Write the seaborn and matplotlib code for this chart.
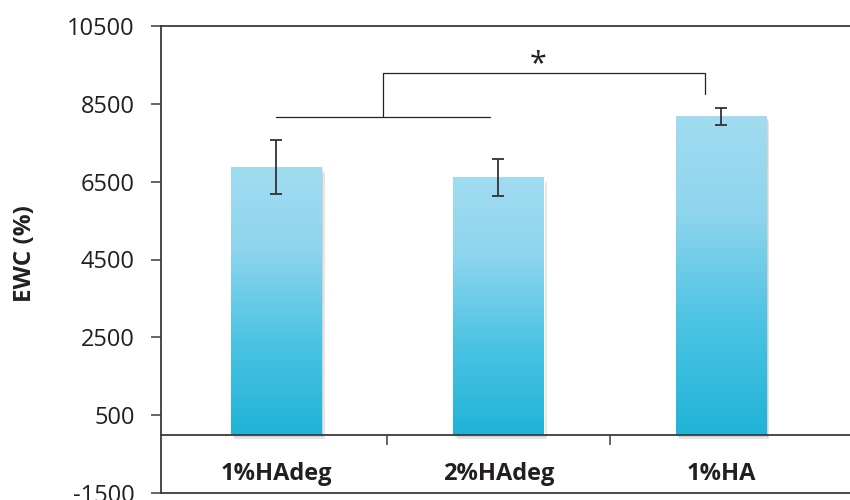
import numpy as np
import pandas as pd
import matplotlib
matplotlib.use("Agg")
import matplotlib.pyplot as plt
import matplotlib.patheffects as pe
from matplotlib.colors import LinearSegmentedColormap
import seaborn as sns

# Equilibrium water content per hydrogel formulation
groups = ["1%HAdeg", "2%HAdeg", "1%HA"]
ewc_mean = [6880, 6610, 8180]
ewc_sd = [700, 470, 220]
y_ticks = [-1500, 500, 2500, 4500, 6500, 8500, 10500]

# Significance bracket: pooled HAdeg groups vs 1%HA
pool_x = [0.0, 0.96]
pool_y = 8170
bracket_x = [0.48, 1.93]
bracket_top = 9300
bracket_drop = 8740
star_pos = (1.18, 9520)
star_label = "*"

sns.set_theme(style="white")
plt.rcParams["font.family"] = ["Open Sans", "DejaVu Sans"]

spine_col = "#3a3a3a"
text_col = "#231f20"

fig = plt.figure(figsize=(8.5, 5), dpi=100)
ax = fig.add_axes([0.1894, 0.014, 0.8106, 0.934])

df = pd.DataFrame({"group": groups, "ewc": ewc_mean})
sns.barplot(data=df, x="group", y="ewc", ax=ax, width=0.405,
            color="#20b4d8", errorbar=None, saturation=1, zorder=2)

# vertical gradient fill inside each bar, with a soft drop shadow
grad = LinearSegmentedColormap.from_list(
    "bar_grad",
    [(0.0, "#1fb3d8"), (0.35, "#4cc3e3"), (0.7, "#8fd5ee"), (1.0, "#a1dcf0")])
gvals = np.linspace(0, 1, 256).reshape(-1, 1)
for bar in ax.patches:
    x0, y0 = bar.get_x(), bar.get_y()
    w, h = bar.get_width(), bar.get_height()
    bar.set_path_effects([
        pe.SimplePatchShadow(offset=(2.5, -3.5), shadow_rgbFace="#8a8a8a", alpha=0.22),
        pe.SimplePatchShadow(offset=(1.2, -1.8), shadow_rgbFace="#6a6a6a", alpha=0.25),
        pe.Normal()])
    im = ax.imshow(gvals, cmap=grad, origin="lower", aspect="auto",
                   extent=(x0, x0 + w, y0, y0 + h), zorder=2.5)
    im.set_clip_path(bar)

ax.errorbar(range(len(groups)), ewc_mean, yerr=ewc_sd, fmt="none",
            ecolor="#333333", elinewidth=1.3, capsize=4.5, capthick=1.3, zorder=4)

# bracket lines and asterisk
ax.plot(pool_x, [pool_y, pool_y], color="#222222", lw=0.9, zorder=4)
ax.plot([bracket_x[0], bracket_x[0], bracket_x[1], bracket_x[1]],
        [pool_y, bracket_top, bracket_top, bracket_drop],
        color="#222222", lw=0.9, zorder=4, solid_joinstyle="miter")
ax.text(star_pos[0], star_pos[1], star_label, fontsize=22, ha="center",
        va="center", color=text_col)

ax.set_xlim(-0.517, 2.58)
ax.set_ylim(y_ticks[0], y_ticks[-1])
ax.set_yticks(y_ticks)
ax.set_yticklabels([str(t) for t in y_ticks], fontsize=17, color=text_col)

# category axis line at zero, boundary ticks, labels below
ax.spines["bottom"].set_position(("data", 0))
ax.set_xticks([0.5, 1.5])
ax.set_xticklabels([])
ax.set_xticks(range(len(groups)), minor=True)
ax.set_xticklabels(groups, minor=True, fontsize=17, fontweight="bold", color=text_col)
ax.tick_params(axis="x", which="major", direction="out", length=7, width=1.1,
               color=spine_col, bottom=True)
ax.tick_params(axis="x", which="minor", length=0, pad=20, bottom=True)
ax.tick_params(axis="y", direction="out", length=7, width=1.1, color=spine_col,
               pad=12, left=True)
ax.axhline(y_ticks[0], color=spine_col, lw=1.3, clip_on=False, zorder=5)

ax.set_xlabel("")
ax.set_ylabel("")
for side in ["left", "top", "bottom"]:
    ax.spines[side].set_visible(True)
    ax.spines[side].set_color(spine_col)
    ax.spines[side].set_linewidth(1.3)
ax.spines["right"].set_visible(False)

fig.text(25 / 850, 1 - 254 / 500, "EWC (%)", rotation=90, fontsize=17.5,
         fontweight="bold", ha="center", va="center", color=text_col)

fig.savefig("out.png", dpi=100)
